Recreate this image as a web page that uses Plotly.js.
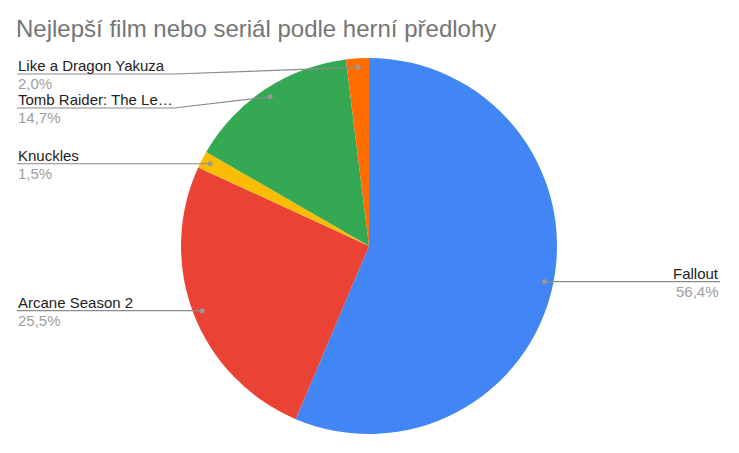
<!DOCTYPE html>
<html>
<head>
<meta charset="utf-8">
<script src="https://cdn.plot.ly/plotly-3.0.1.min.js"></script>
<style>
  html, body { margin: 0; padding: 0; background: #fff; }
  #chart { width: 739px; height: 453px; }
</style>
</head>
<body>
<div id="chart"></div>
<script>
var categories = ['Fallout', 'Arcane Season 2', 'Knuckles', 'Tomb Raider: The Legend of Lara Croft', 'Like a Dragon Yakuza'];
var votes = [115, 52, 3, 30, 4];
var sliceColors = ['#4285f4', '#ea4335', '#fbbc04', '#34a853', '#ff6d01'];

var W = 739, H = 453;
var CX = 369, CY = 246, R = 188;

function px(x) { return x / W; }
function py(y) { return 1 - y / H; }

function shortName(s) {
    return s.length > 20 ? s.slice(0, 19) + '\u2026' : s;
}

var total = votes.reduce(function (a, b) { return a + b; }, 0);

// leader dots sit at 95% of the radius, mid-slice
var legs = [];
var cum = 0;
votes.forEach(function (v, i) {
    var a = 2 * Math.PI * (cum + v / 2) / total;
    cum += v;
    legs.push({
        name: shortName(categories[i]),
        pct: (v / total * 100).toFixed(1).replace('.', ',') + '%',
        dx: CX + R * 0.952 * Math.sin(a),
        dy: CY - R * 0.952 * Math.cos(a)
    });
});

// keep labels apart on each side
['left', 'right'].forEach(function (side) {
    var list = legs.filter(function (l) { return (l.dx < CX) === (side === 'left'); });
    list.sort(function (a, b) { return a.dy - b.dy; });
    var prev = 40;
    list.forEach(function (l) {
        l.side = side;
        l.ly = Math.max(l.dy, prev + 34);
        prev = l.ly;
    });
});

var labelFont = 'Liberation Sans, Arial, sans-serif';
var shapes = [];
var annotations = [];
legs.forEach(function (l) {
    var left = l.side === 'left';
    var xEnd = left ? 17 : 720;
    var xElb = left ? 174 : 564;
    shapes.push({
        type: 'path', xref: 'paper', yref: 'paper',
        path: 'M ' + px(xEnd) + ' ' + py(l.ly) + ' L ' + px(xElb) + ' ' + py(l.ly) +
              ' L ' + px(l.dx) + ' ' + py(l.dy),
        line: {color: '#8a8a8a', width: 1.2}
    });
    shapes.push({
        type: 'circle', xref: 'paper', yref: 'paper',
        x0: px(l.dx - 2.5), x1: px(l.dx + 2.5), y0: py(l.dy + 2.5), y1: py(l.dy - 2.5),
        fillcolor: '#999999', line: {width: 0}
    });
    annotations.push({
        xref: 'paper', yref: 'paper', x: px(xEnd), y: py(l.ly + 1),
        xanchor: left ? 'left' : 'right', yanchor: 'bottom',
        text: l.name, showarrow: false,
        font: {family: labelFont, size: 15, color: '#222222'},
        borderpad: 0
    });
    annotations.push({
        xref: 'paper', yref: 'paper', x: px(xEnd), y: py(l.ly),
        xanchor: left ? 'left' : 'right', yanchor: 'top',
        text: l.pct, showarrow: false,
        font: {family: labelFont, size: 15, color: '#9e9e9e'},
        borderpad: 0
    });
});

var trace = {
    type: 'pie',
    labels: categories,
    values: votes,
    sort: false,
    direction: 'clockwise',
    rotation: 0,
    textinfo: 'none',
    hoverinfo: 'label+percent',
    marker: {colors: sliceColors, line: {color: '#ffffff', width: 0}},
    domain: {x: [px(CX - R), px(CX + R)], y: [py(CY + R), py(CY - R)]}
};

var layout = {
    width: W,
    height: H,
    margin: {l: 0, r: 0, t: 0, b: 0},
    showlegend: false,
    paper_bgcolor: '#ffffff',
    title: {
        text: 'Nejlepší film nebo seriál podle herní předlohy',
        x: px(16), xanchor: 'left', xref: 'paper',
        y: py(29), yanchor: 'middle', yref: 'container',
        font: {family: labelFont, size: 24, color: '#757575'}
    },
    shapes: shapes,
    annotations: annotations
};

Plotly.newPlot('chart', [trace], layout, {staticPlot: true});
</script>
</body>
</html>
